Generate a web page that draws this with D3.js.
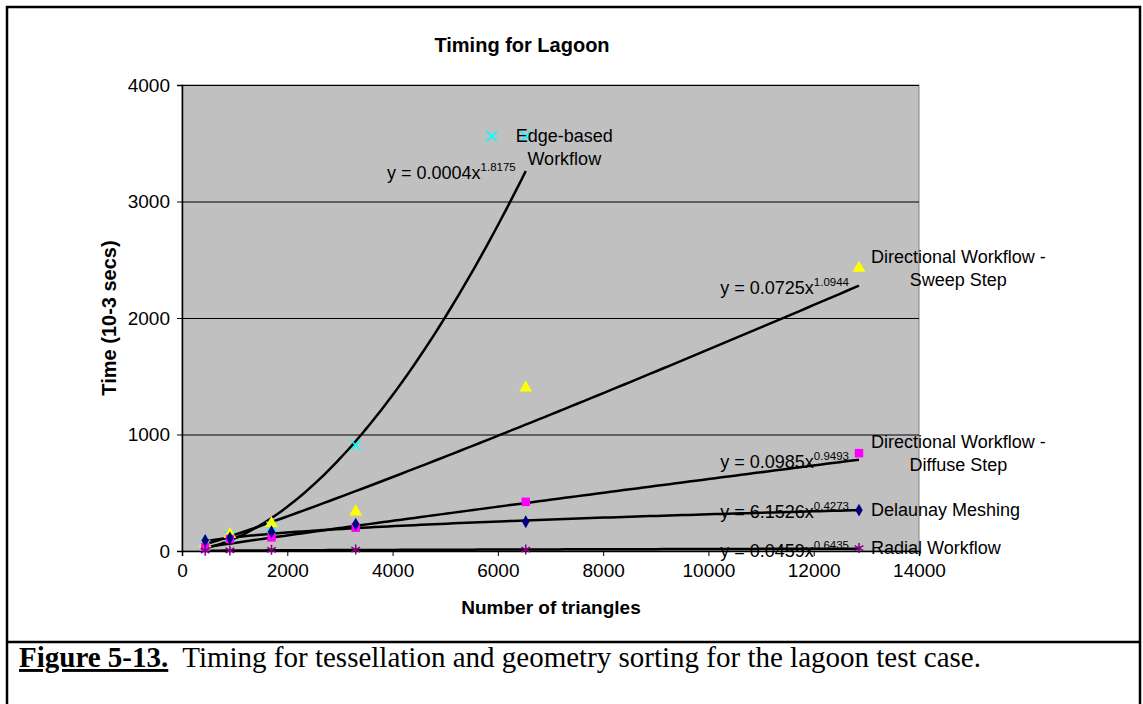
<!DOCTYPE html>
<html>
<head>
<meta charset="utf-8">
<script src="https://cdn.jsdelivr.net/npm/d3@7"></script>
<style>
  body { margin: 0; background: #fff; }
  svg text { font-family: "Liberation Sans", Arial, sans-serif; fill: #000; }
</style>
</head>
<body>
<svg id="viewport" width="1143" height="704"></svg>
<script>
// data
var triangles = [440, 910, 1700, 3300, 6530, 12860];
var edgeTimes = [50, 123, 208, 908, 3560, null];
var sweepTimes = [65, 143, 237, 337, 1400, 2428];
var diffuseTimes = [35, 103, 117, 200, 422, 840];
var delaunayTimes = [90, 111, 165, 231, 251, 351];
var radialTimes = [3, 5, 10, 12, 12, 25];

var seriesNames = [["Edge-based", "Workflow"], ["Directional Workflow -", "Sweep Step"],
  ["Directional Workflow -", "Diffuse Step"], ["Delaunay Meshing"], ["Radial Workflow"]];
var seriesTimes = [edgeTimes, sweepTimes, diffuseTimes, delaunayTimes, radialTimes];
var seriesColors = ["#00FFFF", "#FFFF00", "#FF00FF", "#000080", "#800080"];
var seriesSymbols = ["x", "triangle", "square", "diamond", "asterisk"];

// power trendlines y = a x^b
var trendA = [0.00038, 0.0725, 0.0985, 6.1526, 0.0459];
var trendB = [1.8175, 1.0944, 0.9493, 0.4273, 0.6435];
var trendCoefText = ["0.0004", "0.0725", "0.0985", "6.1526", "0.0459"];
var trendExpText = ["1.8175", "1.0944", "0.9493", "0.4273", "0.6435"];

var xTicks = [0, 2000, 4000, 6000, 8000, 10000, 12000, 14000];
var yTicks = [0, 1000, 2000, 3000, 4000];

var svg = d3.select("#viewport");

var x = d3.scaleLinear().domain([0, 14000]).range([182, 919]);
var y = d3.scaleLinear().domain([0, 4000]).range([551, 85]);

// outer frame + caption separator
svg.append("rect").attr("x", 7).attr("y", 7).attr("width", 1133).attr("height", 720)
  .attr("fill", "none").attr("stroke", "#000").attr("stroke-width", 2.5);
svg.append("line").attr("x1", 7).attr("x2", 1140).attr("y1", 642).attr("y2", 642)
  .attr("stroke", "#000").attr("stroke-width", 2.5);

// plot area
svg.append("rect").attr("x", x(0)).attr("y", y(4000))
  .attr("width", x(14000) - x(0)).attr("height", y(0) - y(4000))
  .attr("fill", "#C0C0C0").attr("stroke", "#808080").attr("stroke-width", 1);

svg.append("g").selectAll("line").data(yTicks.filter(function(d) { return d > 0; }))
  .enter().append("line")
  .attr("x1", x(0)).attr("x2", x(14000))
  .attr("y1", function(d) { return y(d) + 0.5; }).attr("y2", function(d) { return y(d) + 0.5; })
  .attr("stroke", "#000").attr("stroke-width", 1);

var xAxis = svg.append("g").attr("transform", "translate(0," + y(0) + ")")
  .call(d3.axisBottom(x).tickValues(xTicks).tickSize(5).tickPadding(8).tickFormat(d3.format("d")));
var yAxis = svg.append("g").attr("transform", "translate(" + x(0) + ",0)")
  .call(d3.axisLeft(y).tickValues(yTicks).tickSize(5).tickPadding(7).tickFormat(d3.format("d")));
[xAxis, yAxis].forEach(function(ax) {
  ax.select(".domain").attr("stroke", "#000").attr("stroke-width", 1.5);
  ax.selectAll(".tick line").attr("stroke", "#000");
  ax.selectAll("text").attr("font-size", 19).attr("font-family", "Liberation Sans, Arial, sans-serif").attr("fill", "#000");
});

// trendlines
var line = d3.line().x(function(d) { return x(d[0]); }).y(function(d) { return y(d[1]); });
var ends = [];
seriesTimes.forEach(function(times, i) {
  var xs = triangles.filter(function(t, k) { return times[k] != null; });
  var lo = d3.min(xs), hi = d3.max(xs);
  var pts = d3.range(0, 101).map(function(k) {
    var xv = lo + (hi - lo) * k / 100;
    return [xv, trendA[i] * Math.pow(xv, trendB[i])];
  });
  ends.push(pts[pts.length - 1]);
  svg.append("path").datum(pts).attr("d", line)
    .attr("fill", "none").attr("stroke", "#000").attr("stroke-width", 2.5);
});

// markers
function marker(g, type, color) {
  var shapes = { x: d3.symbolX, triangle: d3.symbolTriangle, square: d3.symbolSquare,
    diamond: d3.symbolDiamond, asterisk: d3.symbolAsterisk };
  var sizes = { x: 70, triangle: 72, square: 72, diamond: 48, asterisk: 70 };
  var stroked = type == "x" || type == "asterisk";
  g.append("path")
    .attr("d", d3.symbol().type(shapes[type]).size(sizes[type]))
    .attr("fill", stroked ? "none" : color)
    .attr("stroke", stroked ? color : "none")
    .attr("stroke-width", 1.5);
}

seriesTimes.forEach(function(times, i) {
  triangles.forEach(function(t, k) {
    if (times[k] == null) return;
    var g = svg.append("g").attr("transform", "translate(" + [x(t), y(times[k])] + ")");
    marker(g, seriesSymbols[i], seriesColors[i]);
  });
});

// equation labels, right-aligned just before the trendline end
seriesTimes.forEach(function(times, i) {
  var ex = x(ends[i][0]) - 10, ey = y(ends[i][1]) + 8;
  var t = svg.append("text").attr("x", ex).attr("y", ey).attr("text-anchor", "end")
    .attr("font-size", 18);
  t.append("tspan").text("y = " + trendCoefText[i] + "x");
  t.append("tspan").attr("font-size", 11.5).attr("dy", -8).text(trendExpText[i]);
});

// series labels to the right of the last point
seriesTimes.forEach(function(times, i) {
  var k = times.length - 1;
  while (times[k] == null) k--;
  var px = x(triangles[k]), py = y(times[k]);
  var lines = seriesNames[i];
  var left = px + 12, base = py + 6 - (lines.length - 1) * 11.5;
  if (i == 0) {
    // this label was dragged left/down and shows its legend key
    left = px - 10; base = py + 6;
    var key = svg.append("g").attr("transform", "translate(" + [px - 34, py] + ")");
    marker(key, seriesSymbols[i], seriesColors[i]);
  }
  var g = svg.append("g");
  var texts = lines.map(function(s, j) {
    return g.append("text").attr("y", base + j * 23).attr("font-size", 18).text(s);
  });
  var w = d3.max(texts, function(t) { return t.node().getComputedTextLength(); });
  texts.forEach(function(t) {
    t.attr("x", left + w / 2).attr("text-anchor", "middle");
  });
});

// titles
svg.append("text").attr("x", 522).attr("y", 52).attr("text-anchor", "middle")
  .attr("font-size", 20).attr("font-weight", "bold").text("Timing for Lagoon");
svg.append("text").attr("x", 551).attr("y", 614).attr("text-anchor", "middle")
  .attr("font-size", 19).attr("font-weight", "bold").text("Number of triangles");
svg.append("text").attr("transform", "translate(116,318) rotate(-90)").attr("text-anchor", "middle")
  .attr("font-size", 20).attr("font-weight", "bold").text("Time (10-3 secs)");

// caption
var cap = svg.append("text").attr("x", 19).attr("y", 667)
  .style("font-family", "'Liberation Serif', 'Times New Roman', serif").attr("font-size", 29);
cap.append("tspan").attr("font-weight", "bold").attr("text-decoration", "underline").text("Figure 5-13.");
cap.append("tspan").attr("xml:space", "preserve").style("white-space", "pre")
  .text("  Timing for tessellation and geometry sorting for the lagoon test case.");
</script>
</body>
</html>
